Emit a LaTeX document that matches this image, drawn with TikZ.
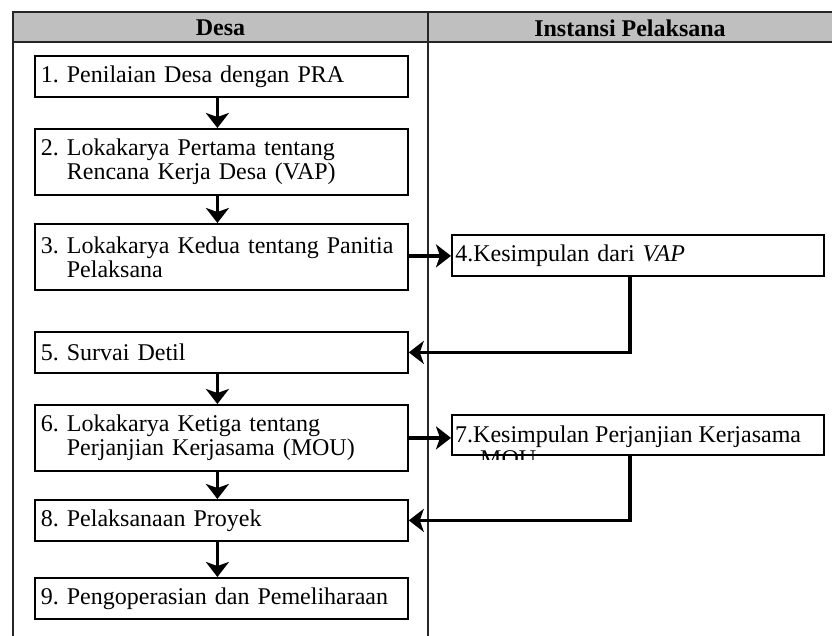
\documentclass[tikz,border=0pt]{standalone}
\usepackage{fontspec}
\setmainfont{Liberation Serif}
\usetikzlibrary{arrows.meta}
\frenchspacing
\begin{document}
\begin{tikzpicture}[x=1pt,y=-1pt,
  tbl/.style={line width=1.3pt,draw=black!85},
  box/.style={draw=black,line width=1.8pt,fill=white,rectangle,anchor=north west,
    inner ysep=0pt,align=left,
    font=\fontsize{24}{24}\selectfont},
  lbox/.style={box,inner xsep=6pt,text width=361pt},
  rbox/.style={box,inner xsep=3.5pt,text width=365pt},
  arr/.style={line width=3.8pt,-{Stealth[length=15pt,width=23pt,inset=4pt]}},
  hdr/.style={font=\fontsize{24}{24}\selectfont\bfseries}
]
\useasboundingbox (0,0) rectangle (832,636);
% table
\fill[black!25] (13,12) rectangle (832,42);
\draw[tbl] (13,636) -- (13,12) -- (832,12);
\draw[tbl] (13,42) -- (832,42);
\draw[tbl] (428,12) -- (428,636);
\node[hdr] (h1) at (220.5,28) {Desa};
\node[hdr] (h2) at (630,28) {Instansi Pelaksana};
% boxes left
\node[lbox,minimum height=41pt] (b1) at (34,55) {1. Penilaian Desa dengan PRA};
\node[lbox,minimum height=66pt] (b2) at (34,128) {2. Lokakarya Pertama tentang\\\phantom{2. }Rencana Kerja Desa (VAP)};
\node[lbox,minimum height=66pt] (b3) at (34,223) {3. Lokakarya Kedua tentang Panitia\\\phantom{3. }Pelaksana};
\node[lbox,minimum height=41pt] (b5) at (34,331) {5. Survai Detil};
\node[lbox,minimum height=66pt] (b6) at (34,404) {6. Lokakarya Ketiga tentang\\\phantom{6. }Perjanjian Kerjasama (MOU)};
\node[lbox,minimum height=41pt] (b8) at (34,499) {8. Pelaksanaan Proyek};
\node[lbox,minimum height=41pt] (b9) at (34,577) {9. Pengoperasian dan Pemeliharaan};
% boxes right
\node[rbox,minimum height=41pt] (b4) at (451,234) {4.Kesimpulan dari \textit{VAP}};
\node[rbox,minimum height=40pt] (b7) at (451,414) {};
\begin{scope}
  \clip ([xshift=-2pt]b7.north west) rectangle ([yshift=-3.5pt]b7.south east);
  \node[anchor=base west,inner sep=0pt,align=left,font=\fontsize{24}{24}\selectfont] (t7)
    at ([xshift=4pt,yshift=-52pt]b7.north west) {7.Kesimpulan Perjanjian Kerjasama\\\hspace*{25pt}MOU};
\end{scope}
% arrows down
\draw[arr] ([xshift=-4pt]b1.south) -- ([xshift=-4pt]b2.north);
\draw[arr] ([xshift=-4pt]b2.south) -- ([xshift=-4pt]b3.north);
\draw[arr] ([xshift=-4pt]b5.south) -- ([xshift=-4pt]b6.north);
\draw[arr] ([xshift=-4pt]b6.south) -- ([xshift=-4pt]b8.north);
\draw[arr] ([xshift=-4pt]b8.south) -- ([xshift=-4pt]b9.north);
% arrows right
\coordinate (a3) at ([yshift=1pt]b3.east);
\draw[arr] (a3) -- (b4.west |- a3);
\draw[arr] (b6.east) -- (b7.west |- b6.east);
% return arrows
\coordinate (k4) at ([xshift=179pt]b4.south west);
\coordinate (k7) at ([xshift=179pt]b7.south west);
\draw[arr] (k4) |- (b5.east);
\draw[arr] (k7) |- (b8.east);
\end{tikzpicture}
\end{document}
